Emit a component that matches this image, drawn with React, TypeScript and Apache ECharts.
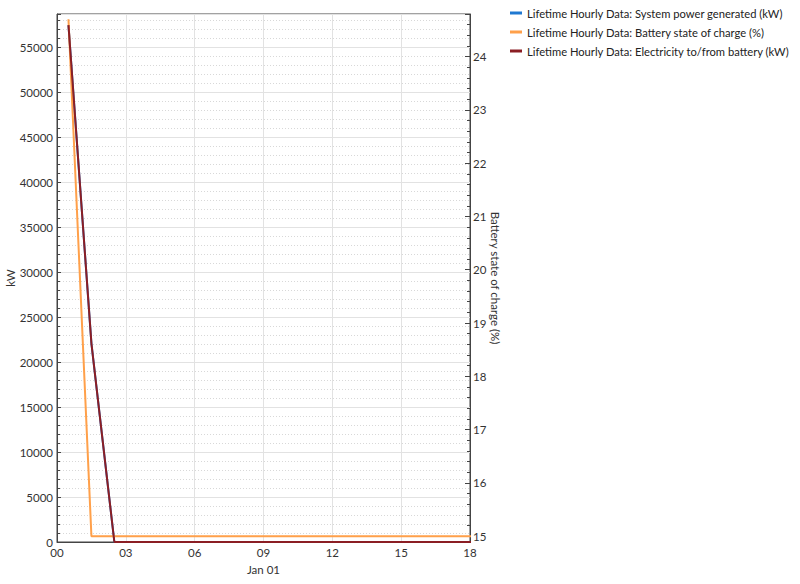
import React, { useEffect, useRef } from "react";
import * as echarts from "echarts";

const hours = [0.5, 1.5, 2.5, 3.5, 4.5, 5.5, 6.5, 7.5, 8.5, 9.5, 10.5, 11.5, 12.5, 13.5, 14.5, 15.5, 16.5, 17.5, 18.5];
const systemPower = [57500, 22100, 0, 0, 0, 0, 0, 0, 0, 0, 0, 0, 0, 0, 0, 0, 0, 0, 0];
const batterySoc = [24.7, 15.0, 15.0, 15.0, 15.0, 15.0, 15.0, 15.0, 15.0, 15.0, 15.0, 15.0, 15.0, 15.0, 15.0, 15.0, 15.0, 15.0, 15.0];
const batteryFlow = [57500, 22100, 0, 0, 0, 0, 0, 0, 0, 0, 0, 0, 0, 0, 0, 0, 0, 0, 0];
const seriesNames = [
  "Lifetime Hourly Data: System power generated (kW)",
  "Lifetime Hourly Data: Battery state of charge (%)",
  "Lifetime Hourly Data: Electricity to/from battery (kW)",
];
const colors = ["#1f78d1", "#ffa04a", "#8b1e24"];

export default function App() {
  const ref = useRef<HTMLDivElement>(null);
  useEffect(() => {
    document.body.style.margin = "0";
    const chart = echarts.init(ref.current!, null, { renderer: "svg" });
    const font = "Lato, 'Open Sans', sans-serif";
    const fs = 11.5;
    const pair = (vals: number[]) => hours.map((h, i) => [h, vals[i]]);
    chart.setOption({
      animation: false,
      backgroundColor: "#ffffff",
      textStyle: { fontFamily: font },
      color: colors,
      legend: {
        orient: "vertical",
        left: 505,
        top: 1,
        itemWidth: 12,
        itemHeight: 3,
        itemGap: 5,
        icon: "rect",
        textStyle: { fontSize: 11.2, color: "#222", fontFamily: font, lineHeight: 14 },
        data: seriesNames.map((n) => ({ name: n, icon: "rect" })),
      },
      grid: {
        left: 57,
        right: 330,
        top: 14,
        bottom: 42,
        show: true,
        borderColor: "#444",
        borderWidth: 1,
        containLabel: false,
        outerBoundsMode: "none",
      },
      xAxis: {
        type: "value",
        min: 0,
        max: 18,
        interval: 3,
        name: "Jan 01",
        nameLocation: "middle",
        nameGap: 21,
        nameMoveOverlap: false,
        nameTextStyle: { fontSize: fs, color: "#333" },
        axisLine: { lineStyle: { color: "#444" } },
        axisTick: { show: false },
        axisLabel: {
          fontSize: fs,
          color: "#333",
          margin: 4,
          formatter: (v: number) => String(v).padStart(2, "0"),
        },
        splitLine: { show: true, lineStyle: { color: "#e2e2e2", width: 1 } },
      },
      yAxis: [
        {
          type: "value",
          min: 0,
          max: 58730,
          interval: 5000,
          name: "kW",
          nameLocation: "middle",
          nameGap: 41,
          nameMoveOverlap: false,
          nameTextStyle: { fontSize: fs, color: "#333" },
          axisLine: { show: true, lineStyle: { color: "#444" } },
          axisTick: { show: true, inside: true, length: 4, lineStyle: { color: "#444" } },
          minorTick: { show: true, splitNumber: 5, length: 3, lineStyle: { color: "#444" } },
          axisLabel: { fontSize: fs, color: "#333", margin: 4, showMaxLabel: false, formatter: (v: number) => String(v) },
          splitLine: { show: true, lineStyle: { color: "#e2e2e2", width: 1 } },
          minorSplitLine: { show: true, lineStyle: { color: "#d8d8d8", type: [1, 2], width: 1 } },
        },
        {
          type: "value",
          position: "right",
          min: 14.89,
          max: 24.8,
          splitNumber: 10,
          name: "Battery state of charge (%)",
          nameLocation: "middle",
          nameRotate: -90,
          nameGap: 19,
          nameMoveOverlap: false,
          nameTextStyle: { fontSize: fs, color: "#333" },
          axisLine: { show: true, lineStyle: { color: "#444" } },
          axisTick: { show: true, inside: true, length: 5, lineStyle: { color: "#444" } },
          minorTick: { show: true, splitNumber: 5, length: 3, lineStyle: { color: "#444" } },
          axisLabel: { fontSize: fs, color: "#333", margin: 3, showMinLabel: false, showMaxLabel: false },
          splitLine: { show: false },
        },
      ],
      series: [
        {
          name: seriesNames[0],
          type: "line",
          yAxisIndex: 0,
          data: pair(systemPower),
          showSymbol: false,
          lineStyle: { width: 2, color: colors[0] },
          clip: true,
        },
        {
          name: seriesNames[1],
          type: "line",
          yAxisIndex: 1,
          data: pair(batterySoc),
          showSymbol: false,
          lineStyle: { width: 2, color: colors[1] },
          clip: true,
        },
        {
          name: seriesNames[2],
          type: "line",
          yAxisIndex: 0,
          data: pair(batteryFlow),
          showSymbol: false,
          lineStyle: { width: 2, color: colors[2] },
          clip: true,
        },
      ],
    });
    return () => chart.dispose();
  }, []);
  return <div ref={ref} style={{ position: "fixed", left: 0, top: 0, width: 800, height: 584 }} />;
}
